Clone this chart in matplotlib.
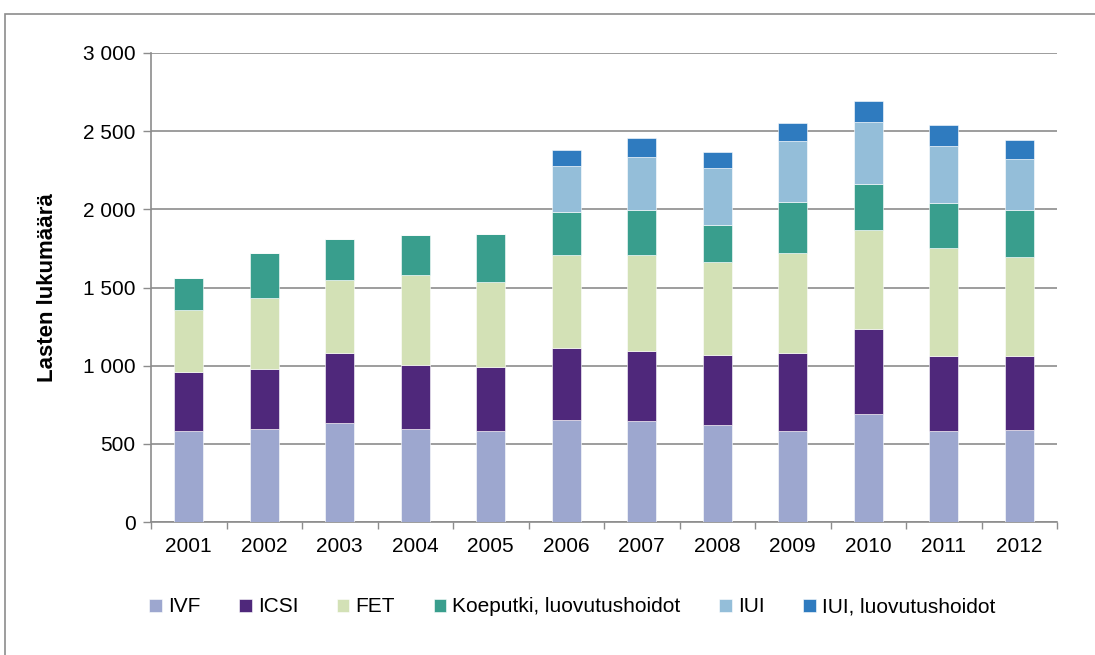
import numpy as np
import matplotlib
matplotlib.use("Agg")
import matplotlib.pyplot as plt
from matplotlib.patches import Rectangle
from matplotlib.ticker import FuncFormatter, FixedLocator

plt.rcParams['font.family'] = ['Liberation Sans', 'DejaVu Sans']

# data
years = ["2001", "2002", "2003", "2004", "2005", "2006",
         "2007", "2008", "2009", "2010", "2011", "2012"]
ivf = [582, 595, 634, 598, 582, 655, 644, 619, 582, 694, 580, 587]
icsi = [376, 384, 448, 409, 408, 461, 448, 452, 498, 539, 480, 475]
fet = [401, 457, 469, 574, 546, 595, 619, 589, 642, 638, 694, 632]
koeputki = [203, 284, 260, 256, 307, 271, 282, 237, 328, 290, 286, 301]
iui = [0, 0, 0, 0, 0, 292, 341, 369, 386, 399, 362, 328]
iui_luov = [0, 0, 0, 0, 0, 105, 120, 100, 114, 130, 137, 121]

series = [
    ("IVF", ivf, "#9da7cf"),
    ("ICSI", icsi, "#4f287b"),
    ("FET", fet, "#d3e1b6"),
    ("Koeputki, luovutushoidot", koeputki, "#399e8d"),
    ("IUI", iui, "#94bed9"),
    ("IUI, luovutushoidot", iui_luov, "#2f7bbf"),
]

fig = plt.figure(figsize=(10.95, 6.55), dpi=100)
ax = fig.add_axes([151 / 1095, 1 - 522 / 655, (1057 - 151) / 1095, (522 - 53) / 655])

# outer frame
fig.patches.append(Rectangle((5 / 1095, -0.01), 1.0, (655 - 14) / 655 + 0.01,
                             transform=fig.transFigure, fill=False,
                             edgecolor="#8c8c8c", linewidth=1.2))

x = np.arange(len(years))
bottom = np.zeros(len(years))
for name, vals, col in series:
    vals = np.array(vals, dtype=float)
    ax.bar(x, vals, 0.39, bottom=bottom, color=col, label=name,
           edgecolor="white", linewidth=0.4, zorder=3)
    bottom += vals

ax.set_xlim(-0.5, len(years) - 0.5)
ax.set_ylim(0, 3000)
ax.set_yticks(np.arange(0, 3001, 500))
ax.yaxis.set_major_formatter(FuncFormatter(lambda v, p: f"{int(v):,}".replace(",", " ")))
ax.set_xticks(x)
ax.set_xticklabels(years)
ax.xaxis.set_minor_locator(FixedLocator(np.arange(-0.5, len(years), 1.0)))
ax.tick_params(axis="x", which="major", length=0, pad=11, labelsize=15)
ax.tick_params(axis="x", which="minor", length=5, color="#8c8c8c", width=1)
ax.tick_params(axis="y", length=6, color="#8c8c8c", width=1, labelsize=15, pad=5)

ax.grid(axis="y", color="#8c8c8c", linewidth=1.2, zorder=0)
ax.set_axisbelow(True)
for side in ["top", "right"]:
    ax.spines[side].set_visible(False)
for side in ["left", "bottom"]:
    ax.spines[side].set_color("#8c8c8c")
    ax.spines[side].set_linewidth(1.2)

ax.set_ylabel("Lasten lukumäärä", fontsize=16, fontweight="bold", labelpad=18)

ax.legend(loc="center", bbox_to_anchor=(0.465, -(607 - 522) / 469),
          ncol=6, frameon=False, fontsize=15, handlelength=0.6, handleheight=0.6,
          handletextpad=0.3, columnspacing=1.85)

fig.savefig("out.png", dpi=100)
